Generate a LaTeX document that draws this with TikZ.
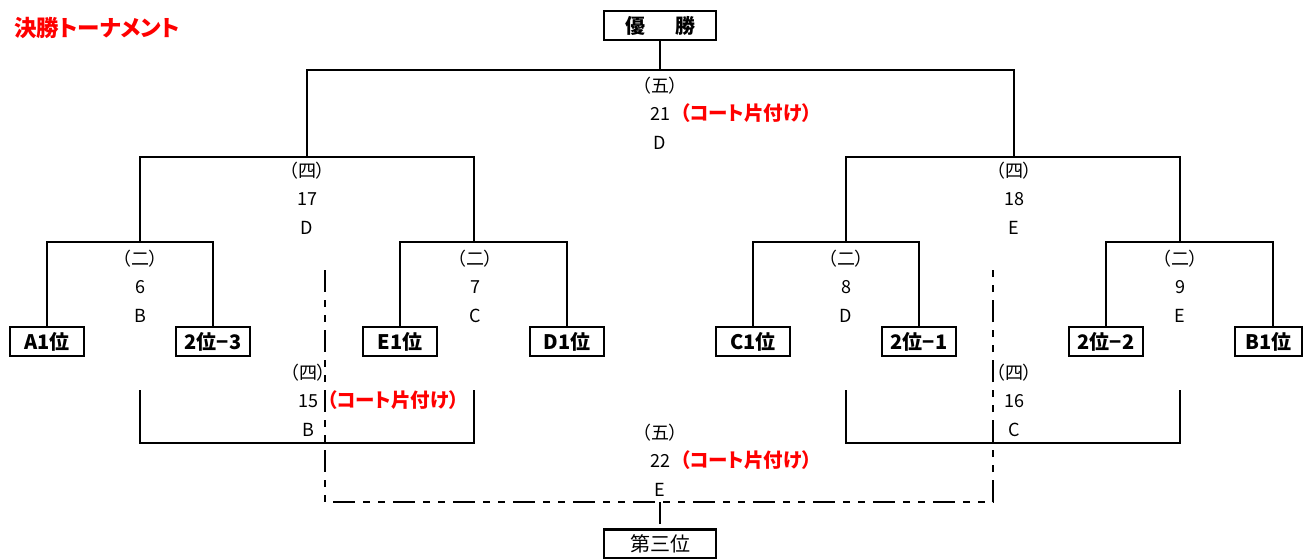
\documentclass[tikz,border=0pt]{standalone}
\usepackage{fontspec}
\setmainfont{Noto Sans CJK JP}[RawFeature=+palt]
\usetikzlibrary{positioning}

\tikzset{
  bracket/.style={line width=2.2pt},
  dashdot/.style={line width=2.2pt, dash pattern=on 22pt off 8pt on 7pt off 8pt on 7pt off 8pt},
  seed/.style={draw, line width=2.2pt, minimum width=74pt, minimum height=29pt, inner sep=0pt,
    font=\bfseries\fontsize{20}{21}\selectfont},
  finalbox/.style={draw, line width=2.2pt, minimum width=112pt, minimum height=29pt, inner sep=0pt},
  card/.style={align=center, font=\fontsize{18}{28.5}\selectfont},
  note/.style={text=red, anchor=west, inner sep=0pt, font=\bfseries\fontsize{19.5}{21}\selectfont},
}

\begin{document}
\begin{tikzpicture}[x=1pt, y=-1pt]
\useasboundingbox (0,0) rectangle (1304,559);

\node[text=red, anchor=west, inner sep=0pt, font=\bfseries\fontsize{22.5}{23}\selectfont] (title) at (14,28) {決勝トーナメント};

% final and third place boxes
\node[finalbox, font=\bfseries\fontsize{20}{21}\selectfont] (champ) at (660,25.5) {優\hspace{1.5em}勝};
\node[finalbox, font=\fontsize{20}{21}\selectfont] (third) at (660,544) {第三位};

% seeds
\node[seed] (a1)  at (47,341.5)   {A1位};
\node[seed] (s23) at (213,341.5)  {2位−3};
\node[seed] (e1)  at (400,341.5)  {E1位};
\node[seed] (d1)  at (567,341.5)  {D1位};
\node[seed] (c1)  at (753,341.5)  {C1位};
\node[seed] (s21) at (919,341.5)  {2位−1};
\node[seed] (s22) at (1106,341.5) {2位−2};
\node[seed, minimum width=67pt] (b1) at (1268.5,341.5) {B1位};

% junctions
\coordinate (j21) at (660,70);
\coordinate (s17) at (307,157);
\coordinate (s18) at (1014,157);
\coordinate (q6) at (140,242);
\coordinate (q7) at (474,242);
\coordinate (q8) at (846,242);
\coordinate (q9) at (1180,242);

% main bracket
\draw[bracket] (champ.south) -- (j21);
\draw[bracket] (s17) |- (j21) -| (s18);
\draw[bracket] (q6) |- (s17) -| (q7);
\draw[bracket] (q8) |- (s18) -| (q9);
\draw[bracket] (a1.north) |- (q6) -| (s23.north);
\draw[bracket] (e1.north) |- (q7) -| (d1.north);
\draw[bracket] (c1.north) |- (q8) -| (s21.north);
\draw[bracket] (s22.north) |- (q9) -| ([xshift=4.5pt]b1.north);

% third place bracket
\coordinate (l15a) at (140,390);
\coordinate (l15b) at (474,390);
\coordinate (l16a) at (846,390);
\coordinate (l16b) at (1180,390);
\coordinate (m15) at (308,443);
\coordinate (m16) at (1014,443);
\draw[bracket] (l15a) |- (m15) -| (l15b);
\draw[bracket] (l16a) |- (m16) -| (l16b);

\coordinate (d15) at (325,270);
\coordinate (d16) at (993,270);
\coordinate (j22) at (660,502);
\draw[dashdot] (d15) |- (j22) -| (d16);
\draw[dashdot] (j22) -- (third.north);

% match labels
\node[card] (c21) at (660,113) {（五）\\21\\D};
\node[note] (n21) at (680,113) {（コート片付け）};
\node[card] (c17) at (307,198) {（四）\\17\\D};
\node[card] (c18) at (1014,198) {（四）\\18\\E};
\node[card] (c6) at (140,286) {（二）\\6\\B};
\node[card] (c7) at (475,286) {（二）\\7\\C};
\node[card] (c8) at (846,286) {（二）\\8\\D};
\node[card] (c9) at (1180,286) {（二）\\9\\E};
\node[card] (c15) at (308,400) {（四）\\15\\B};
\node[note] (n15) at (327,400) {（コート片付け）};
\node[card] (c16) at (1014,400) {（四）\\16\\C};
\node[card] (c22) at (660,460) {（五）\\22\\E};
\node[note] (n22) at (680,460) {（コート片付け）};
\end{tikzpicture}
\end{document}
